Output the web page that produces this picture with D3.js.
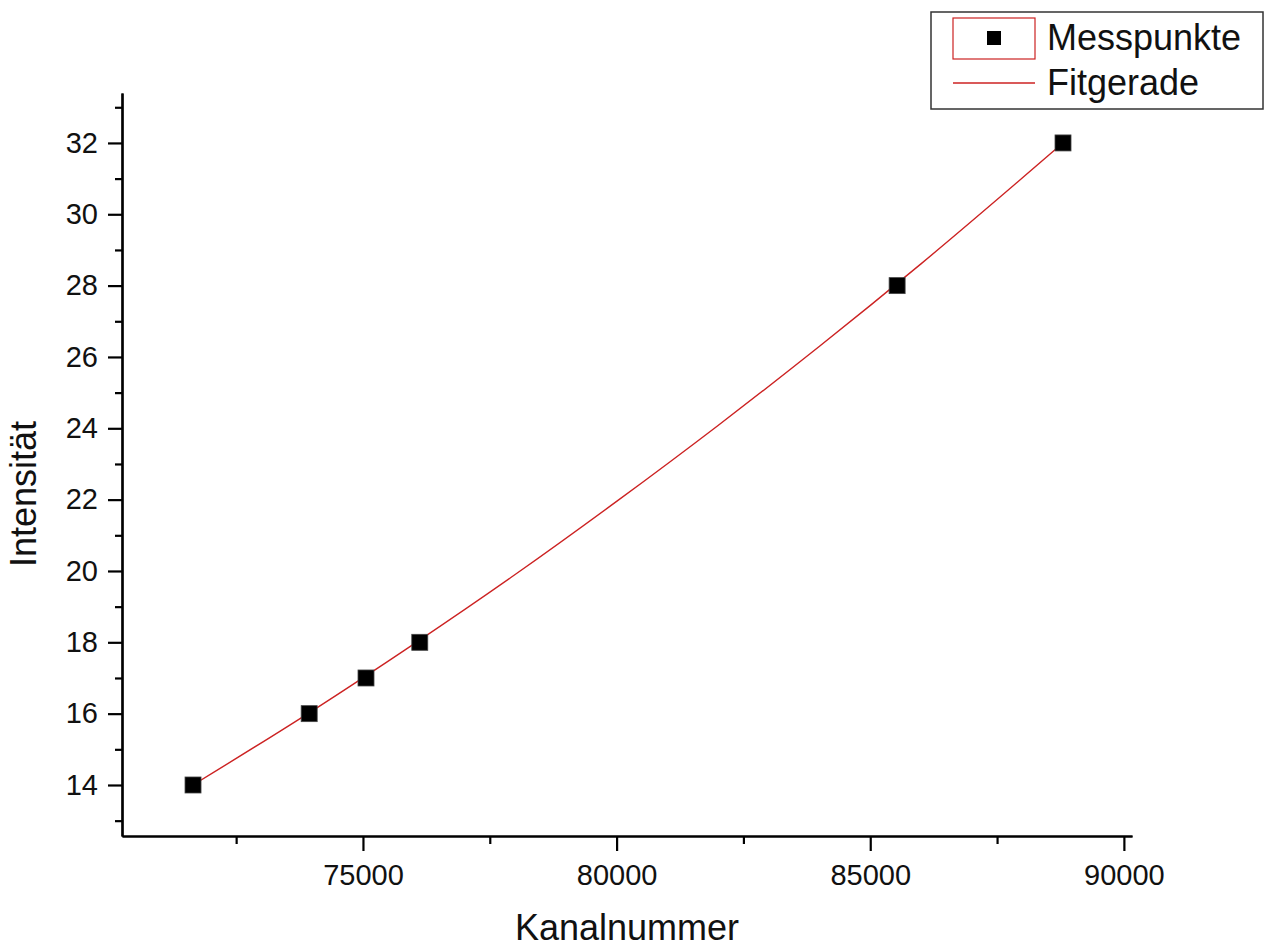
<!DOCTYPE html>
<html>
<head>
<meta charset="utf-8">
<script src="https://cdn.jsdelivr.net/npm/d3@7"></script>
<style>
  html, body { margin: 0; padding: 0; background: #fff; }
  svg { display: block; font-family: "Liberation Sans", Arial, sans-serif; }
</style>
</head>
<body>
<svg id="chart" width="1265" height="947"></svg>
<script>
// Data
const pointX = [71650, 73940, 75060, 76120, 85530, 88800];
const pointY = [14, 16, 17, 18, 28, 32];
const fitX = [71650, 74000, 76000, 78000, 80000, 82000, 84000, 86000, 88800];
const fitY = [14.0, 16.08, 17.95, 19.90, 21.95, 24.08, 26.30, 28.61, 32.0];
const xMajorTicks = [75000, 80000, 85000, 90000];
const xMinorTicks = [72500, 77500, 82500, 87500];
const yMajorTicks = [14, 16, 18, 20, 22, 24, 26, 28, 30, 32];
const yMinorTicks = [13, 15, 17, 19, 21, 23, 25, 27, 29, 31, 33];
const legendLabels = ["Messpunkte", "Fitgerade"];
const xTitle = "Kanalnummer";
const yTitle = "Intensität";

const svg = d3.select("#chart");
const plot = { left: 122, right: 1132, top: 93, bottom: 836 };

const x = d3.scaleLinear().domain([70250, 90160]).range([plot.left, plot.right]);
const y = d3.scaleLinear().domain([12.57, 33.4]).range([plot.bottom, plot.top]);

// Axes
const xAxisMinor = d3.axisBottom(x).tickValues(xMinorTicks).tickSize(8).tickSizeOuter(0).tickFormat("");
const xAxisMajor = d3.axisBottom(x).tickValues(xMajorTicks).tickSize(15).tickSizeOuter(0).tickPadding(13).tickFormat(d3.format("d"));
const yAxisMinor = d3.axisLeft(y).tickValues(yMinorTicks).tickSize(7).tickSizeOuter(0).tickFormat("");
const yAxisMajor = d3.axisLeft(y).tickValues(yMajorTicks).tickSize(14).tickSizeOuter(0).tickPadding(10).tickFormat(d3.format("d"));

function styleAxis(g) {
  g.selectAll(".domain").attr("stroke", "#000").attr("stroke-width", 2.2);
  g.selectAll(".tick line").attr("stroke", "#000").attr("stroke-width", 2.2);
  g.selectAll(".tick text").attr("fill", "#111").style("font-size", "29px")
    .style("font-family", "'Liberation Sans', Arial, sans-serif");
}

svg.append("g").attr("transform", `translate(0,${plot.bottom})`).call(xAxisMinor).call(styleAxis);
svg.append("g").attr("transform", `translate(0,${plot.bottom})`).call(xAxisMajor).call(styleAxis);
svg.append("g").attr("transform", `translate(${plot.left},0)`).call(yAxisMinor).call(styleAxis);
svg.append("g").attr("transform", `translate(${plot.left},0)`).call(yAxisMajor).call(styleAxis);

// Fit line
const fitData = fitX.map((v, i) => [v, fitY[i]]);
svg.append("path")
  .datum(fitData)
  .attr("fill", "none")
  .attr("stroke", "#cc2222")
  .attr("stroke-width", 1.4)
  .attr("d", d3.line().x(d => x(d[0])).y(d => y(d[1])).curve(d3.curveMonotoneX));

// Points
const pts = pointX.map((v, i) => [v, pointY[i]]);
const sq = 16;
svg.append("g").selectAll("rect")
  .data(pts).join("rect")
  .attr("x", d => x(d[0]) - sq / 2)
  .attr("y", d => y(d[1]) - sq / 2)
  .attr("width", sq).attr("height", sq)
  .attr("fill", "#000")
  .attr("stroke", "#444").attr("stroke-width", 0.8);

// Axis titles
svg.append("text")
  .attr("x", 627).attr("y", 940)
  .attr("text-anchor", "middle")
  .style("font-size", "36px").attr("fill", "#111")
  .text(xTitle);

svg.append("text")
  .attr("transform", `translate(36,${494}) rotate(-90)`)
  .attr("text-anchor", "middle")
  .style("font-size", "36px").attr("fill", "#111")
  .text(yTitle);

// Legend
const lg = svg.append("g");
lg.append("rect").attr("x", 931).attr("y", 12).attr("width", 332).attr("height", 97)
  .attr("fill", "#fff").attr("stroke", "#333").attr("stroke-width", 1.5);
lg.append("rect").attr("x", 953).attr("y", 18).attr("width", 82).attr("height", 41)
  .attr("fill", "none").attr("stroke", "#cc2222").attr("stroke-width", 1.2);
lg.append("rect").attr("x", 994 - 7).attr("y", 38 - 7).attr("width", 14).attr("height", 14)
  .attr("fill", "#000");
lg.append("line").attr("x1", 953).attr("x2", 1035).attr("y1", 83).attr("y2", 83)
  .attr("stroke", "#cc2222").attr("stroke-width", 1.4);
lg.append("text").attr("x", 1047).attr("y", 50).style("font-size", "36px").attr("fill", "#111").text(legendLabels[0]);
lg.append("text").attr("x", 1047).attr("y", 95).style("font-size", "36px").attr("fill", "#111").text(legendLabels[1]);
</script>
</body>
</html>
